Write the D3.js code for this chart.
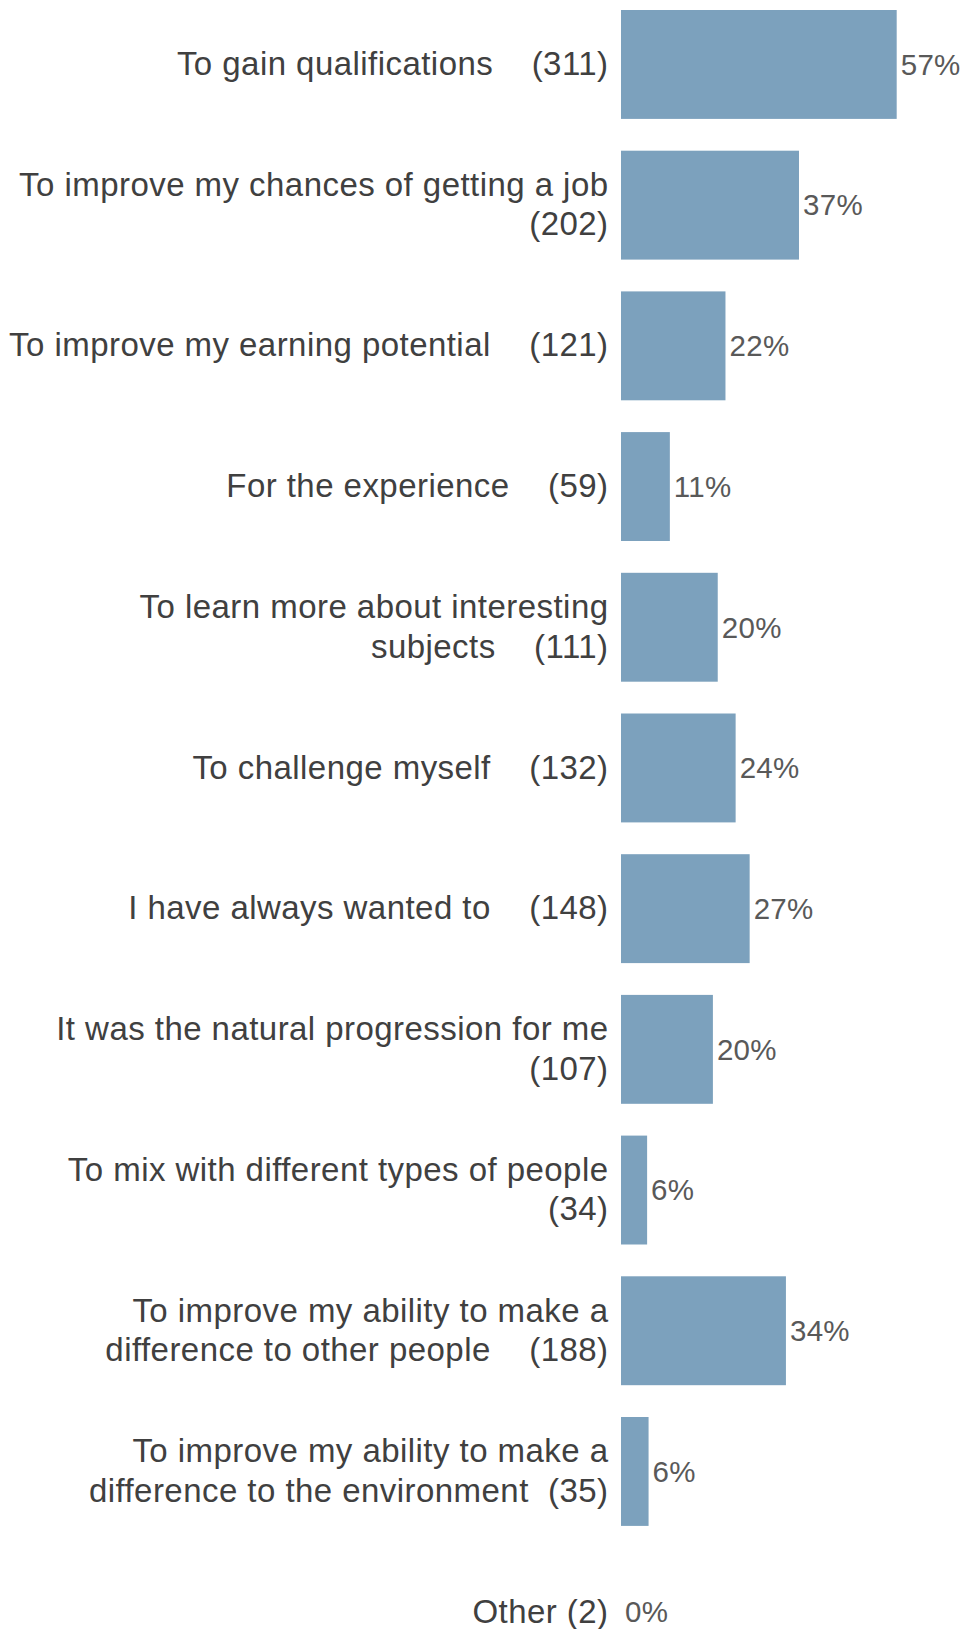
<!DOCTYPE html>
<html>
<head>
<meta charset="utf-8">
<script src="https://cdn.jsdelivr.net/npm/d3@7"></script>
<style>
  body { margin: 0; background: #fff; }
  text { font-family: Arial, "Liberation Sans", sans-serif; white-space: pre; }
</style>
</head>
<body>
<script>
// category labels (lines as shown, counts in brackets)
var labelLines = [
    ["To gain qualifications    (311)"],
    ["To improve my chances of getting a job", "(202)"],
    ["To improve my earning potential    (121)"],
    ["For the experience    (59)"],
    ["To learn more about interesting", "subjects    (111)"],
    ["To challenge myself    (132)"],
    ["I have always wanted to    (148)"],
    ["It was the natural progression for me", "(107)"],
    ["To mix with different types of people", "(34)"],
    ["To improve my ability to make a", "difference to other people    (188)"],
    ["To improve my ability to make a", "difference to the environment  (35)"],
    ["Other (2)"]
];

// bar lengths (percent of respondents)
var values = [57, 36.8, 21.6, 10.1, 20.0, 23.7, 26.6, 19.0, 5.4, 34.1, 5.7, 0];

// value labels
var pctLabels = ["57%", "37%", "22%", "11%", "20%", "24%", "27%", "20%", "6%", "34%", "6%", "0%"];

var width = 963,
    height = 1629;

var svg = d3.select("body")
    .append("svg")
    .attr("width", width)
    .attr("height", height);

var idx = d3.range(values.length);

var yScale = d3.scaleBand()
    .domain(idx)
    .range([10, 1666.6])
    .paddingInner(0.226)
    .paddingOuter(0);

var xScale = d3.scaleLinear()
    .domain([0, 60])
    .range([621, 911.2]);

// bars
svg.selectAll("rect.bar")
    .data(idx)
    .enter()
    .append("rect")
    .attr("class", "bar")
    .attr("x", xScale(0))
    .attr("y", function(i) { return yScale(i); })
    .attr("width", function(i) { return xScale(values[i]) - xScale(0); })
    .attr("height", yScale.bandwidth())
    .attr("fill", "#7ca1bd");

// value labels
svg.selectAll("text.pct")
    .data(idx)
    .enter()
    .append("text")
    .attr("class", "pct")
    .attr("x", function(i) { return xScale(values[i]) + 4; })
    .attr("y", function(i) { return yScale(i) + yScale.bandwidth() / 2; })
    .attr("dy", "0.35em")
    .attr("font-size", "29.5px")
    .attr("letter-spacing", "0.3px")
    .attr("fill", "#595959")
    .text(function(i) { return pctLabels[i]; });

// category labels
var lineH = 39.5;
var cat = svg.selectAll("text.cat")
    .data(idx)
    .enter()
    .append("text")
    .attr("class", "cat")
    .attr("xml:space", "preserve")
    .attr("text-anchor", "end")
    .attr("font-size", "33px")
    .attr("letter-spacing", "0.45px")
    .attr("fill", "#404040");

cat.each(function(i) {
    var lines = labelLines[i];
    var mid = yScale(i) + yScale.bandwidth() / 2;
    var top = mid - (lines.length - 1) * lineH / 2;
    d3.select(this).selectAll("tspan")
        .data(lines)
        .enter()
        .append("tspan")
        .attr("x", 608.5)
        .attr("y", function(d, k) { return top + k * lineH; })
        .attr("dy", "0.32em")
        .text(function(d) { return d; });
});
</script>
</body>
</html>
